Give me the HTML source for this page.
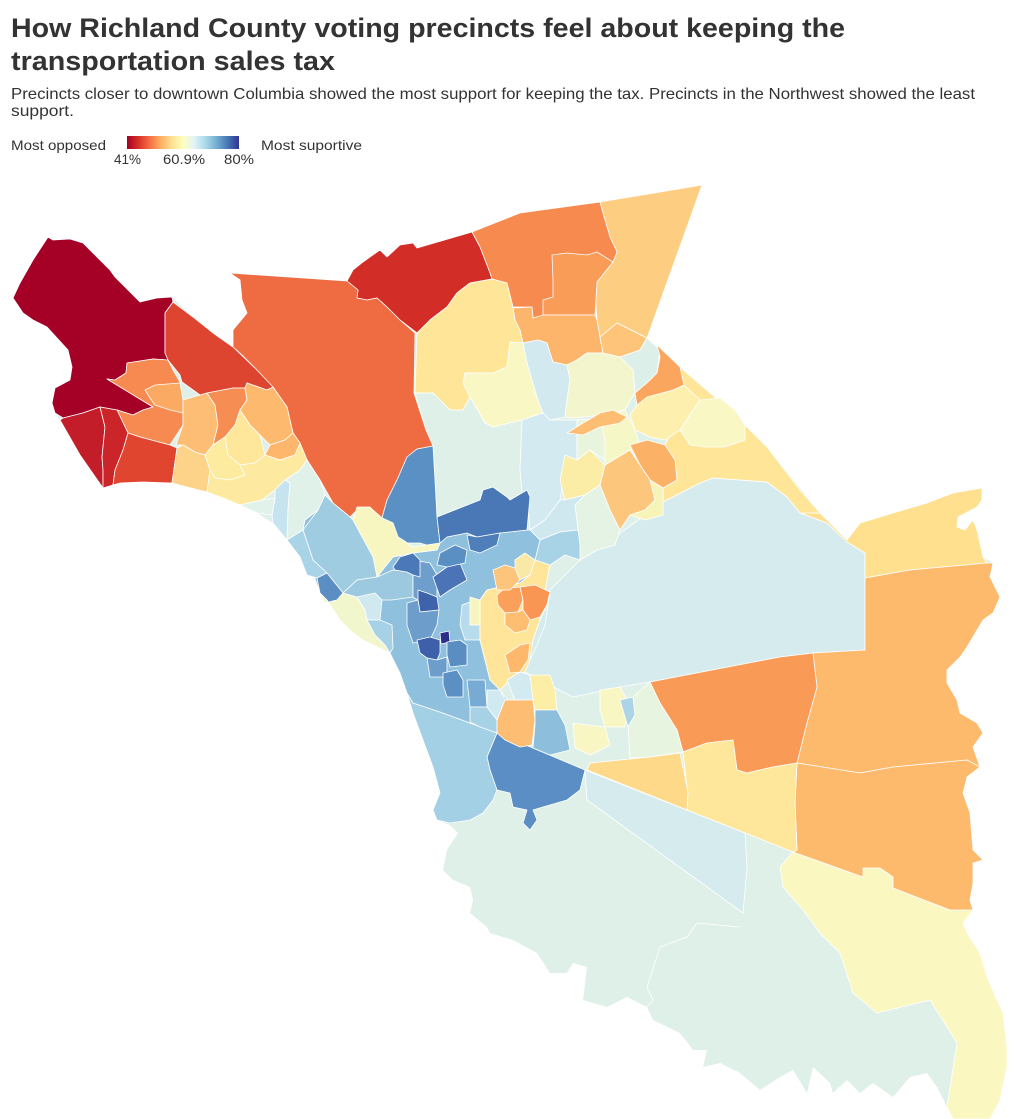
<!DOCTYPE html>
<html><head><meta charset="utf-8"><style>
html,body{margin:0;padding:0;background:#fff;width:1020px;height:1119px;overflow:hidden}
svg{display:block}
text{font-family:"Liberation Sans",sans-serif;fill:#333}
</style></head><body>
<svg width="1020" height="1119" viewBox="0 0 1020 1119" xmlns="http://www.w3.org/2000/svg">
<defs>
<linearGradient id="lg" x1="0" x2="1" y1="0" y2="0">
<stop offset="0" stop-color="#a50026"/><stop offset="0.1" stop-color="#d73027"/><stop offset="0.2" stop-color="#f46d43"/><stop offset="0.3" stop-color="#fdae61"/><stop offset="0.4" stop-color="#fee090"/><stop offset="0.5" stop-color="#ffffbf"/><stop offset="0.6" stop-color="#e0f3f8"/><stop offset="0.7" stop-color="#abd9e9"/><stop offset="0.8" stop-color="#74add1"/><stop offset="0.9" stop-color="#4575b4"/><stop offset="1" stop-color="#313695"/>
</linearGradient>
</defs>
<text x="11" y="37" font-size="27" font-weight="bold" textLength="834" lengthAdjust="spacingAndGlyphs">How Richland County voting precincts feel about keeping the</text>
<text x="11" y="70" font-size="27" font-weight="bold" textLength="324" lengthAdjust="spacingAndGlyphs">transportation sales tax</text>
<text x="11" y="99" font-size="16" textLength="964" lengthAdjust="spacingAndGlyphs">Precincts closer to downtown Columbia showed the most support for keeping the tax. Precincts in the Northwest showed the least</text>
<text x="11" y="116" font-size="16" textLength="63" lengthAdjust="spacingAndGlyphs">support.</text>
<text x="11" y="150" font-size="14" textLength="95" lengthAdjust="spacingAndGlyphs">Most opposed</text>
<rect x="127" y="136" width="112" height="13" fill="url(#lg)"/>
<text x="114" y="164" font-size="14" textLength="27" lengthAdjust="spacingAndGlyphs">41%</text>
<text x="163" y="164" font-size="14" textLength="42" lengthAdjust="spacingAndGlyphs">60.9%</text>
<text x="224" y="164" font-size="14" textLength="30" lengthAdjust="spacingAndGlyphs">80%</text>
<text x="261" y="150" font-size="14" textLength="101" lengthAdjust="spacingAndGlyphs">Most suportive</text>

<g stroke="#fff" stroke-width="0.8" stroke-linejoin="round">
<polygon fill="#dff0e9" stroke="none" points="48,237 53,240 70,239 83,243 100,260 110,270 115,277 128,290 140,302 157,298 172,297 193,317 213,333 233,347 233,330 247,313 242,300 240,280 230,273 347,281 353,270 363,262 377,252 380,250 387,257 400,245 413,243 417,248 472,232 520,213 600,202 702,185 647,338 680,367 733,413 767,447 820,513 847,540 860,523 893,513 927,503 953,493 982,488 982,500 977,507 958,517 957,527 965,530 973,520 977,530 983,557 993,563 990,577 1000,597 993,613 983,620 967,647 960,657 947,670 947,683 957,700 960,713 977,723 983,733 973,747 980,767 967,777 963,793 970,813 973,850 983,860 973,863 973,883 970,900 973,910 963,923 967,933 980,953 987,977 997,1000 1003,1013 1007,1047 1007,1067 1000,1100 990,1119 953,1119 947,1107 937,1087 927,1073 910,1077 893,1097 873,1083 860,1093 847,1080 833,1093 830,1083 813,1067 807,1093 793,1070 780,1077 760,1090 740,1073 720,1063 703,1067 707,1050 693,1050 680,1033 653,1020 647,1007 627,997 607,1007 583,1000 587,967 573,963 567,973 550,973 537,953 513,940 490,933 487,927 470,913 473,900 470,887 453,880 443,870 447,850 458,833 450,825 437,820 433,810 440,793 433,767 423,740 413,713 407,693 400,673 390,653 363,640 353,633 340,620 327,600 320,593 313,573 300,557 287,540 273,523 257,513 240,505 223,498 207,492 187,487 170,483 143,482 120,483 103,488 80,455 60,420 55,413 52,403 55,388 70,380 72,367 68,350 47,327 33,320 23,313 13,298 20,283 33,260"/>
<polyline fill="none" points="740,927 697,923 687,937 660,947 647,987 653,1000 647,1007"/>

<polygon fill="#d5ebee" points="585,770 745,833 747,867 743,913 587,800"/>
<polygon fill="#faf7c1" points="793,852 863,877 863,868 880,868 893,877 893,888 950,910 973,910 963,923 967,933 980,953 987,977 997,1000 1003,1013 1007,1047 1007,1067 1000,1100 990,1119 953,1119 947,1107 957,1043 930,1000 877,1013 853,993 840,953 820,933 803,910 783,887 780,867"/>
<polygon fill="#d5ebee" points="663,502 700,483 713,478 767,482 787,497 800,513 827,523 847,542 865,553 865,650 813,653 780,657 650,682 620,687 573,697 525,672 527,650 537,627 550,590 580,560 597,550"/>
<polygon fill="#fee08f" points="820,513 847,540 860,523 893,513 927,503 953,493 982,488 982,500 977,507 958,517 957,527 965,530 973,520 977,530 983,557 987,563 943,567 910,570 893,573 865,578 865,553 847,542 827,523 800,513"/>
<polygon fill="#fdb96c" points="865,578 893,573 910,570 943,567 987,563 993,563 990,577 1000,597 993,613 983,620 967,647 960,657 947,670 947,683 957,700 960,713 977,723 983,733 973,747 980,767 967,760 893,767 860,773 797,763 807,723 817,687 813,653 865,650"/>
<polygon fill="#fdb96c" points="797,763 860,773 893,767 967,760 980,767 967,777 963,793 970,813 973,850 983,860 973,863 973,883 970,900 973,910 950,910 893,888 893,877 880,868 863,868 863,877 793,852 797,850 795,803"/>
<polygon fill="#f99b56" points="650,682 780,657 813,653 817,687 807,723 797,763 773,767 747,773 737,770 733,740 707,743 683,752 677,730 660,703"/>
<polygon fill="#fee79a" points="683,752 707,743 733,740 737,770 747,773 773,767 797,763 795,803 797,850 793,852 687,810 688,793 687,787"/>
<polygon fill="#fed98a" points="587,770 590,763 620,760 650,757 680,753 687,787 688,793 687,810"/>
<polygon fill="#5b8ec4" points="487,757 497,733 585,770 580,790 567,800 543,807 533,810 537,820 530,830 523,823 527,810 513,807 510,793 497,790 490,770"/>
<polygon fill="#a3d0e4" points="390,653 400,673 407,693 413,713 423,740 433,767 440,793 433,810 437,820 450,823 470,820 483,813 493,800 497,790 490,770 487,757 497,733 470,723 440,712 413,703 405,690 398,665"/>

<polygon fill="#fee598" points="680,367 733,413 767,447 800,490 820,513 800,513 787,497 767,482 713,478 700,483 663,502 663,488 677,480 675,460 665,445 670,435 660,420 650,405 673,390 684,385"/>
<polygon fill="#fdf0ae" points="647,397 673,390 684,385 700,400 690,415 680,430 665,440 650,437 635,430 630,415 637,405"/>
<polygon fill="#f9f7c3" points="690,415 700,400 720,398 735,410 745,425 745,440 725,447 705,447 690,445 680,430"/>

<polygon fill="#fdcd82" points="600,202 702,185 647,338 617,323 600,337 597,320 595,290 597,282 613,262 617,252 610,237 603,213"/>
<polygon fill="#f68a4f" points="472,232 520,213 600,202 603,213 610,237 617,252 613,262 597,282 595,315 543,318 533,318 532,307 513,307 507,283 492,279 490,273 480,247"/>
<polygon fill="#f99c58" points="552,255 567,253 587,255 597,252 613,262 597,282 595,315 543,315 543,300 553,297 553,280"/>
<polygon fill="#fdb56c" points="513,308 532,307 533,318 543,315 595,315 597,320 600,337 603,353 587,353 577,360 567,365 553,362 550,353 547,343 538,340 523,343 520,330 515,320"/>
<polygon fill="#fdc47a" points="600,337 617,323 647,338 640,350 620,357 603,353"/>
<polygon fill="#dcefe9" points="620,357 640,350 647,338 660,350 657,373 647,383 635,393 633,370"/>
<polygon fill="#fba65f" points="657,345 680,367 684,385 673,390 647,397 637,405 635,393 647,383 657,373 660,357"/>
<polygon fill="#d22d27" points="347,281 353,270 363,262 377,252 380,250 387,257 400,245 413,243 417,248 472,232 480,247 490,273 492,279 470,283 457,293 447,307 430,320 417,333 400,320 387,307 377,298 367,300 357,298 358,290"/>
<polygon fill="#fee598" points="417,333 430,320 447,307 457,293 470,283 492,279 507,283 513,308 515,320 520,330 523,343 510,342 507,367 493,373 465,373 463,383 470,397 463,410 450,410 433,393 415,393"/>
<polygon fill="#f9f7c3" points="465,373 493,373 507,367 510,342 523,343 527,363 537,397 543,413 522,420 493,427 485,423 470,397 463,383"/>
<polygon fill="#d2e9ef" points="523,343 538,340 547,343 550,353 553,362 567,365 570,380 567,400 565,417 550,420 543,413 537,397 527,363"/>
<polygon fill="#f3f6cc" points="567,365 577,360 587,353 603,353 620,357 633,370 635,393 625,410 600,415 575,418 565,417 567,400 570,380"/>
<polygon fill="#dff0e9" points="415,393 433,393 450,410 463,410 470,397 485,423 493,427 522,420 520,470 522,493 527,490 510,500 507,497 493,487 483,490 480,500 437,517 435,480 433,450 426,430"/>
<polygon fill="#d3eaf0" points="522,420 543,413 550,420 577,420 577,460 563,480 560,500 545,520 530,530 527,490 522,493 520,470"/>
<polygon fill="#e8f4dc" points="577,420 600,418 610,425 605,460 590,450 577,460"/>
<polygon fill="#f5f7c6" points="600,418 625,410 635,430 640,445 630,450 605,465 605,440"/>
<polygon fill="#fdbe73" points="567,433 583,423 600,413 613,410 627,417 620,423 600,427 583,435"/>
<polygon fill="#fbb266" points="630,445 647,440 665,445 675,460 677,480 663,488 650,480 640,465"/>
<polygon fill="#fdc67d" points="605,465 630,450 640,465 650,480 655,500 645,510 630,515 620,530 610,510 600,485"/>
<polygon fill="#f7f4b8" points="650,480 663,488 663,502 663,515 645,520 630,515 645,510 655,500"/>
<polygon fill="#fbeda6" points="565,455 577,460 590,450 605,465 600,485 585,495 565,500 560,480"/>
<polygon fill="#e4f3e4" points="585,495 600,485 610,510 620,530 615,545 597,550 580,560 578,530 575,505"/>
<polygon fill="#cfe7ef" points="530,530 545,520 560,500 565,500 585,495 575,505 578,530 560,532 540,540"/>
<polygon fill="#a8d2e6" points="540,540 560,532 578,530 580,545 580,560 565,555 550,565 535,560"/>

<polygon fill="#a50026" points="48,237 53,240 70,239 83,243 100,260 110,270 115,277 128,290 140,302 157,298 172,297 173,302 165,313 165,353 168,360 153,359 127,363 126,373 115,380 107,379 153,407 143,410 133,415 117,410 100,407 83,413 63,418 55,413 52,403 55,388 70,380 72,367 68,350 47,327 33,320 23,313 13,298 20,283 33,260"/>
<polygon fill="#dd4530" points="173,302 193,317 213,333 233,347 257,370 270,380 273,387 267,390 247,383 245,388 233,388 207,393 200,395 182,382 180,375 168,360 165,353 165,313"/>
<polygon fill="#ef6b42" points="230,273 347,281 358,290 357,298 367,300 377,298 387,307 400,320 415,333 414,393 426,430 433,446 417,449 407,457 397,480 387,500 382,518 373,510 360,507 350,517 333,503 320,480 307,460 300,443 293,433 287,407 273,387 257,370 240,353 233,347 233,330 247,313 242,300 240,280"/>
<polygon fill="#f68a50" points="107,379 115,380 126,373 127,363 153,359 168,360 173,370 180,382 183,400 183,425 170,445 140,437 128,433 117,410 133,415 143,410 153,407"/>
<polygon fill="#fbaa63" points="145,390 155,385 180,383 183,400 183,413 170,410 155,405 150,398"/>
<polygon fill="#c41d2a" points="60,420 63,418 83,413 100,407 105,427 102,457 103,470 103,488 80,455"/>
<polygon fill="#cc2529" points="100,407 117,410 128,433 123,450 115,470 113,485 103,488 103,470 102,457 105,427"/>
<polygon fill="#e0452f" points="128,433 140,437 170,445 177,448 172,483 143,482 120,483 113,485 115,470 123,450"/>
<polygon fill="#fdbd74" points="183,400 200,395 207,393 215,405 218,425 213,445 205,455 195,452 183,445 176,445 183,425"/>
<polygon fill="#f68d52" points="207,393 233,388 245,388 247,400 240,410 235,425 225,437 213,445 218,425 215,405"/>
<polygon fill="#fdba6e" points="245,388 247,383 267,390 273,387 287,407 293,433 285,440 270,445 260,435 250,425 240,410 247,400"/>
<polygon fill="#fee69a" points="240,410 250,425 260,435 265,455 255,463 240,465 228,455 225,437 235,425"/>
<polygon fill="#fdb66c" points="265,455 270,445 285,440 293,433 300,443 295,455 280,460"/>
<polygon fill="#fdd38a" points="177,448 183,445 195,452 205,455 210,470 207,492 187,487 172,483"/>
<polygon fill="#fdeba0" points="205,455 213,445 225,437 228,455 240,465 245,475 230,480 215,478 210,470"/>
<polygon fill="#fee9a0" points="240,465 255,463 265,455 280,460 295,455 300,443 307,460 300,470 285,480 275,490 262,500 240,505 223,498 207,492 210,470 215,478 230,480 245,475"/>
<polygon fill="#e0f2e9" points="240,505 262,500 275,498 272,515 257,513"/>
<polygon fill="#c6e4ef" points="275,490 285,480 290,483 288,510 287,540 273,523 272,515 275,498"/>
<polygon fill="#e0f1ea" points="285,480 300,470 307,460 320,480 325,495 318,510 305,520 300,545 287,540 288,510 290,483"/>

<polygon fill="#8fc0dd" points="300,545 305,520 318,510 325,495 333,503 350,517 353,520 360,533 373,557 377,577 393,557 413,553 437,550 440,543 447,537 467,533 477,537 500,533 527,530 530,530 540,540 535,560 530,575 520,583 500,587 487,590 480,600 480,640 485,660 490,680 500,690 507,700 497,733 470,723 440,712 413,703 407,693 400,673 390,653 363,640 353,633 340,620 327,600 320,593 313,573 300,557"/>
<polygon fill="#5b90c5" points="382,518 387,500 397,480 407,457 417,449 433,446 435,480 437,517 440,543 433,547 420,543 407,543 398,537 393,523"/>
<polygon fill="#4a78b7" points="437,517 480,500 483,490 493,487 507,497 510,500 527,490 530,497 527,530 500,533 477,537 467,533 447,537 440,543"/>
<polygon fill="#f7f6c0" points="353,520 357,507 370,507 373,510 382,518 393,523 398,537 403,540 413,547 440,543 437,550 413,553 393,557 377,577 373,557 360,533"/>
<polygon fill="#a0cce2" points="303,530 318,510 325,495 333,503 350,517 353,520 360,533 373,557 377,577 357,580 343,593 327,573 313,560"/>
<polygon fill="#a9d3e6" points="287,540 303,530 313,560 327,573 317,578 307,575 300,557"/>
<polygon fill="#5b8fc4" points="317,578 327,573 343,593 337,600 325,603 320,593"/>
<polygon fill="#f1f6cc" points="320,593 325,603 337,600 343,593 357,597 365,610 367,620 375,635 385,645 390,653 363,640 353,633 340,620 327,600"/>
<polygon fill="#d0e8f0" points="357,597 375,593 382,600 380,620 367,620 365,610"/>
<polygon fill="#a7d1e5" points="367,620 380,620 392,625 393,648 390,653 385,645 375,635"/>
<polygon fill="#9dc9e0" points="377,577 393,570 413,572 413,597 392,600 382,600 375,593 357,597 343,593 357,580"/>
<polygon fill="#6e9fcc" points="413,560 430,563 437,575 437,600 425,605 413,597 413,572"/>
<polygon fill="#4a78b8" points="393,567 400,557 413,553 420,560 420,577 413,575 407,572 395,570"/>
<polygon fill="#3f63ab" points="418,590 427,593 437,597 439,610 420,612 418,600"/>
<polygon fill="#4a74b5" points="433,577 447,567 460,563 467,580 450,590 440,597"/>
<polygon fill="#5a8fc4" points="440,553 455,545 467,550 465,563 447,567 437,565"/>
<polygon fill="#4e7fbb" points="467,535 477,537 500,533 497,545 480,553 470,550"/>
<polygon fill="#6d9ecb" points="407,603 418,600 420,612 439,610 437,625 430,640 413,643 407,625"/>
<polygon fill="#3e5fa9" points="417,640 430,637 440,640 440,653 437,660 427,658 420,653"/>
<polygon fill="#2c2f8a" points="440,633 449,631 450,642 441,644"/>
<polygon fill="#6d9ecb" points="427,658 437,660 447,657 447,677 430,677"/>
<polygon fill="#5a8ec3" points="447,642 460,640 467,645 467,665 450,667 447,655"/>
<polygon fill="#5b90c5" points="443,673 457,670 463,680 463,697 447,697 443,685"/>
<polygon fill="#78abd3" points="467,680 485,680 487,707 470,707"/>
<polygon fill="#b9dced" points="462,605 475,600 480,612 480,640 465,640 460,625"/>
<polygon fill="#a7d2e6" points="470,707 487,707 497,720 497,733 480,727 470,722"/>
<polygon fill="#d1e9f0" points="487,690 500,690 505,700 497,720 487,707"/>

<polygon fill="#fee59a" points="480,600 487,590 500,587 520,583 530,575 535,560 550,565 545,590 540,620 533,640 530,660 525,672 510,680 500,690 490,680 485,660 480,640"/>
<polygon fill="#f6f5c0" points="470,597 480,600 480,625 470,625"/>
<polygon fill="#faa05a" points="497,595 505,588 520,587 523,600 518,612 505,613 498,605"/>
<polygon fill="#f99654" points="520,587 535,585 550,592 547,605 540,617 530,620 523,610 523,600"/>
<polygon fill="#fdbe72" points="505,613 518,612 523,610 530,620 527,630 515,633 505,625"/>
<polygon fill="#fdb86c" points="505,655 520,645 530,643 528,660 520,672 510,673"/>
<polygon fill="#fdc47b" points="493,570 505,565 515,568 520,580 510,590 497,590"/>
<polygon fill="#fae9a6" points="515,560 525,553 535,560 530,575 520,580 515,568"/>
<polygon fill="#d5ebee" points="547,605 550,592 545,625 537,645 530,660 533,640 540,620"/>
<polygon fill="#d2eaf0" points="507,680 520,672 530,675 533,700 515,700"/>
<polygon fill="#fdeea6" points="530,675 550,675 555,690 557,710 535,710 533,700"/>
<polygon fill="#fdbd72" points="497,720 505,700 515,700 533,700 535,720 532,745 520,747 505,740 497,733"/>
<polygon fill="#8dbfdc" points="535,710 557,710 565,725 570,750 550,755 533,748 535,725"/>
<polygon fill="#f8f7c4" points="600,690 620,687 627,700 625,727 605,727 600,710"/>
<polygon fill="#acd4e6" points="620,700 633,697 635,715 628,727"/>
<polygon fill="#f8f7c3" points="573,723 605,727 610,745 590,755 575,748"/>
<polygon fill="#e6f4e0" points="633,697 650,682 660,703 677,730 683,752 650,757 630,758 628,727 635,715"/>
</g>
</svg>
</body></html>
